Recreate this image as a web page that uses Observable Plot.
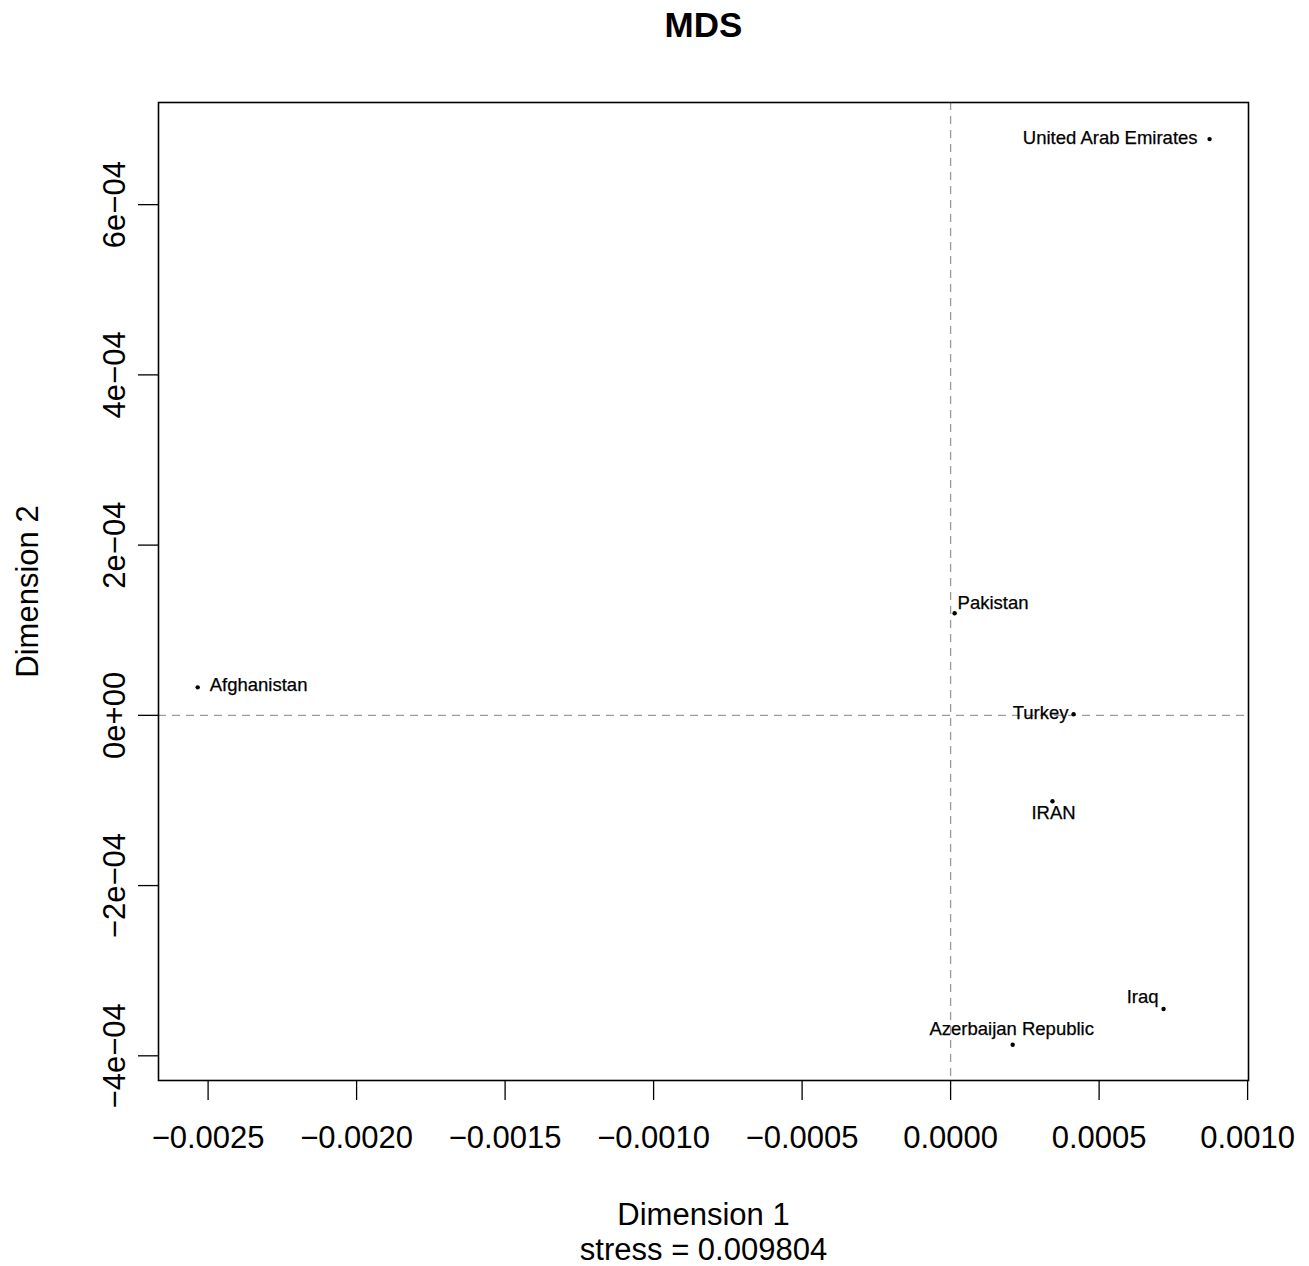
<!DOCTYPE html>
<html>
<head>
<meta charset="utf-8">
<script src="https://cdn.jsdelivr.net/npm/d3@7"></script>
<script src="https://cdn.jsdelivr.net/npm/@observablehq/plot@0.6"></script>
<style>
  html, body { margin: 0; padding: 0; background: #fff; }
  #chart svg { display: block; }
</style>
</head>
<body>
<div id="chart"></div>
<script>
// ---- data ----
const countries = ["United Arab Emirates", "Pakistan", "Afghanistan", "Turkey", "IRAN", "Iraq", "Azerbaijan Republic"];
const dim1 = [0.000872, 0.0000135, -0.002535, 0.000414, 0.000343, 0.000717, 0.000209];
const dim2 = [0.000677, 0.000120, 0.0000329, 0.0000012, -0.000101, -0.000345, -0.000387];
const xTicks = [-0.0025, -0.0020, -0.0015, -0.0010, -0.0005, 0.0000, 0.0005, 0.0010];
const xTickLabels = ["\u22120.0025", "\u22120.0020", "\u22120.0015", "\u22120.0010", "\u22120.0005", "0.0000", "0.0005", "0.0010"];
const yTicks = [-0.0004, -0.0002, 0, 0.0002, 0.0004, 0.0006];
const yTickLabels = ["\u22124e\u221204", "\u22122e\u221204", "0e+00", "2e\u221204", "4e\u221204", "6e\u221204"];
const title = "MDS";
const xLabel = "Dimension 1";
const yLabel = "Dimension 2";
const stressText = "stress = 0.009804";

// label placement (style only)
const placement = {
  "United Arab Emirates": {anchor: "end", dx: -12, dy: -1},
  "Pakistan": {anchor: "start", dx: 3, dy: -10},
  "Afghanistan": {anchor: "start", dx: 12, dy: -2},
  "Turkey": {anchor: "end", dx: -5, dy: -1},
  "IRAN": {anchor: "middle", dx: 1, dy: 12},
  "Iraq": {anchor: "end", dx: -5, dy: -12},
  "Azerbaijan Republic": {anchor: "middle", dx: -1, dy: -16}
};

const points = countries.map((c, i) => ({name: c, x: dim1[i], y: dim2[i]}));

const labelMarks = [];
for (const c of countries) {
  const p = placement[c];
  labelMarks.push(Plot.text(points.filter(d => d.name === c), {
    x: "x", y: "y", text: "name", textAnchor: p.anchor, dx: p.dx, dy: p.dy,
    fontSize: 18.5, fill: "black", stroke: "black", strokeWidth: 0.25
  }));
}

const chart = Plot.plot({
  width: 1309,
  height: 1266,
  marginLeft: 158,
  marginRight: 61,
  marginTop: 102,
  marginBottom: 186,
  style: {fontFamily: "'Liberation Sans', Arial, sans-serif", color: "black", background: "white"},
  x: {domain: [-0.002667, 0.001003]},
  y: {domain: [-0.000429, 0.000720]},
  marks: [
    Plot.ruleX([0], {stroke: "#9a9a9a", strokeWidth: 1.3, strokeDasharray: "8,6"}),
    Plot.ruleY([0], {stroke: "#9a9a9a", strokeWidth: 1.3, strokeDasharray: "8,6"}),
    Plot.frame({stroke: "black", strokeWidth: 1.6}),
    Plot.axisX(xTicks, {tickSize: 20, tickPadding: 25, fontSize: 31,
      tickFormat: d => xTickLabels[xTicks.indexOf(d)], label: null, strokeWidth: 1.3}),
    Plot.axisY(yTicks, {tickSize: 20, tickFormat: () => "", label: null, strokeWidth: 1.3}),
    Plot.text(yTicks, {y: d => d, text: (d, i) => yTickLabels[i], frameAnchor: "left",
      textAnchor: "middle", lineAnchor: "middle",
      dx: -43, rotate: -90, fontSize: 31, fill: "black"}),
    Plot.dot(points, {x: "x", y: "y", r: 2.2, fill: "black"}),
    ...labelMarks,
    Plot.text([title], {frameAnchor: "top", lineAnchor: "middle", dy: -77, fontSize: 35, fontWeight: "bold", fill: "black"}),
    Plot.text([xLabel], {frameAnchor: "bottom", lineAnchor: "middle", dy: 135, fontSize: 31, fill: "black"}),
    Plot.text([stressText], {frameAnchor: "bottom", lineAnchor: "middle", dy: 170, fontSize: 31, fill: "black"}),
    Plot.text([yLabel], {frameAnchor: "left", textAnchor: "middle", lineAnchor: "middle", dx: -130, rotate: -90, fontSize: 31, fill: "black"})
  ]
});
document.getElementById("chart").appendChild(chart);
</script>
</body>
</html>
